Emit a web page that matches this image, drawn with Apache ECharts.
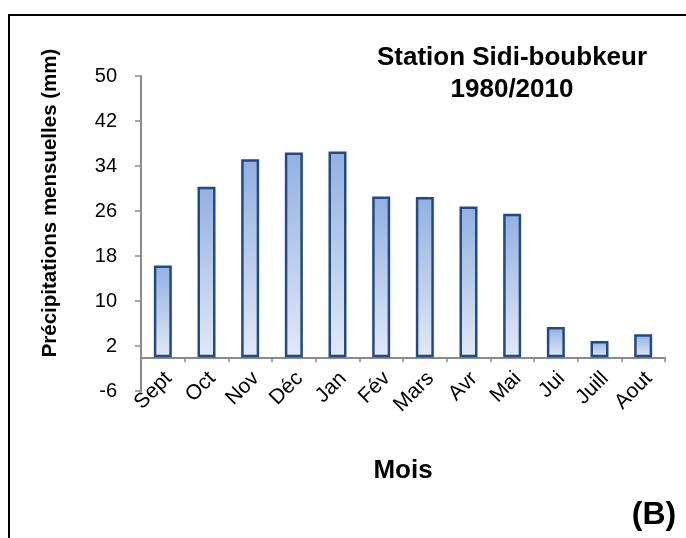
<!DOCTYPE html>
<html>
<head>
<meta charset="utf-8">
<script src="https://cdn.jsdelivr.net/npm/echarts@6/dist/echarts.min.js"></script>
<style>
  html, body { margin: 0; padding: 0; background: #fff; }
  #chart { width: 686px; height: 538px; }
</style>
</head>
<body>
<div id="chart"></div>
<script>
var chart = echarts.init(document.getElementById('chart'));

// mois et précipitations (mm)
var months = ['Sept', 'Oct', 'Nov', 'Déc', 'Jan', 'Fév', 'Mars', 'Avr', 'Mai', 'Jui', 'Juill', 'Aout'];
var rain = [16.3, 30.3, 35.2, 36.4, 36.6, 28.6, 28.5, 26.8, 25.5, 5.4, 2.9, 4.1];
var yMin = -6, yMax = 50, yStep = 8;

var font = '"Liberation Sans", Arial, sans-serif';
var axisGray = '#8a8a8a';

var option = {
    animation: false,
    grid: { left: 141, right: 21, top: 76, bottom: 147 },
    xAxis: {
        type: 'category',
        data: months,
        axisLine: { onZero: true, lineStyle: { color: axisGray, width: 2 } },
        axisTick: { show: true, length: 5, lineStyle: { color: axisGray, width: 1.5 } },
        axisLabel: {
            rotate: 45,
            margin: -10,
            padding: [0, -8, 0, 0],
            interval: 0,
            color: '#000',
            fontSize: 21,
            fontFamily: font
        }
    },
    yAxis: {
        type: 'value',
        min: yMin,
        max: yMax,
        interval: yStep,
        splitLine: { show: false },
        axisLine: { show: true, lineStyle: { color: axisGray, width: 2 } },
        axisTick: { show: true, length: 6, lineStyle: { color: axisGray, width: 1.5 } },
        axisLabel: { margin: 24, color: '#000', fontSize: 20, fontFamily: font }
    },
    series: [{
        type: 'bar',
        data: rain,
        barWidth: 18,
        itemStyle: {
            borderColor: '#224a83',
            borderWidth: 2.5,
            color: new echarts.graphic.LinearGradient(0, 0, 0, 1, [
                { offset: 0, color: '#92b0e1' },
                { offset: 1, color: '#e2e9f6' }
            ])
        }
    }],
    graphic: [
        {
            type: 'rect',
            shape: { x: 9, y: 15, width: 720, height: 600 },
            style: { fill: 'none', stroke: '#000', lineWidth: 2 },
            silent: true
        },
        {
            type: 'text',
            x: 50, y: 203,
            rotation: Math.PI / 2,
            style: {
                text: 'Précipitations mensuelles (mm)',
                fill: '#000',
                font: 'bold 20.5px ' + font,
                align: 'center',
                verticalAlign: 'middle'
            }
        },
        {
            type: 'text',
            x: 512, y: 42,
            style: {
                text: 'Station Sidi-boubkeur\n1980/2010',
                fill: '#000',
                font: 'bold 26px ' + font,
                lineHeight: 32,
                align: 'center',
                verticalAlign: 'top'
            }
        },
        {
            type: 'text',
            x: 403, y: 471,
            style: {
                text: 'Mois',
                fill: '#000',
                font: 'bold 26px ' + font,
                align: 'center',
                verticalAlign: 'middle'
            }
        },
        {
            type: 'text',
            x: 654, y: 515,
            style: {
                text: '(B)',
                fill: '#000',
                font: 'bold 32px ' + font,
                align: 'center',
                verticalAlign: 'middle'
            }
        }
    ]
};
chart.setOption(option);
</script>
</body>
</html>
